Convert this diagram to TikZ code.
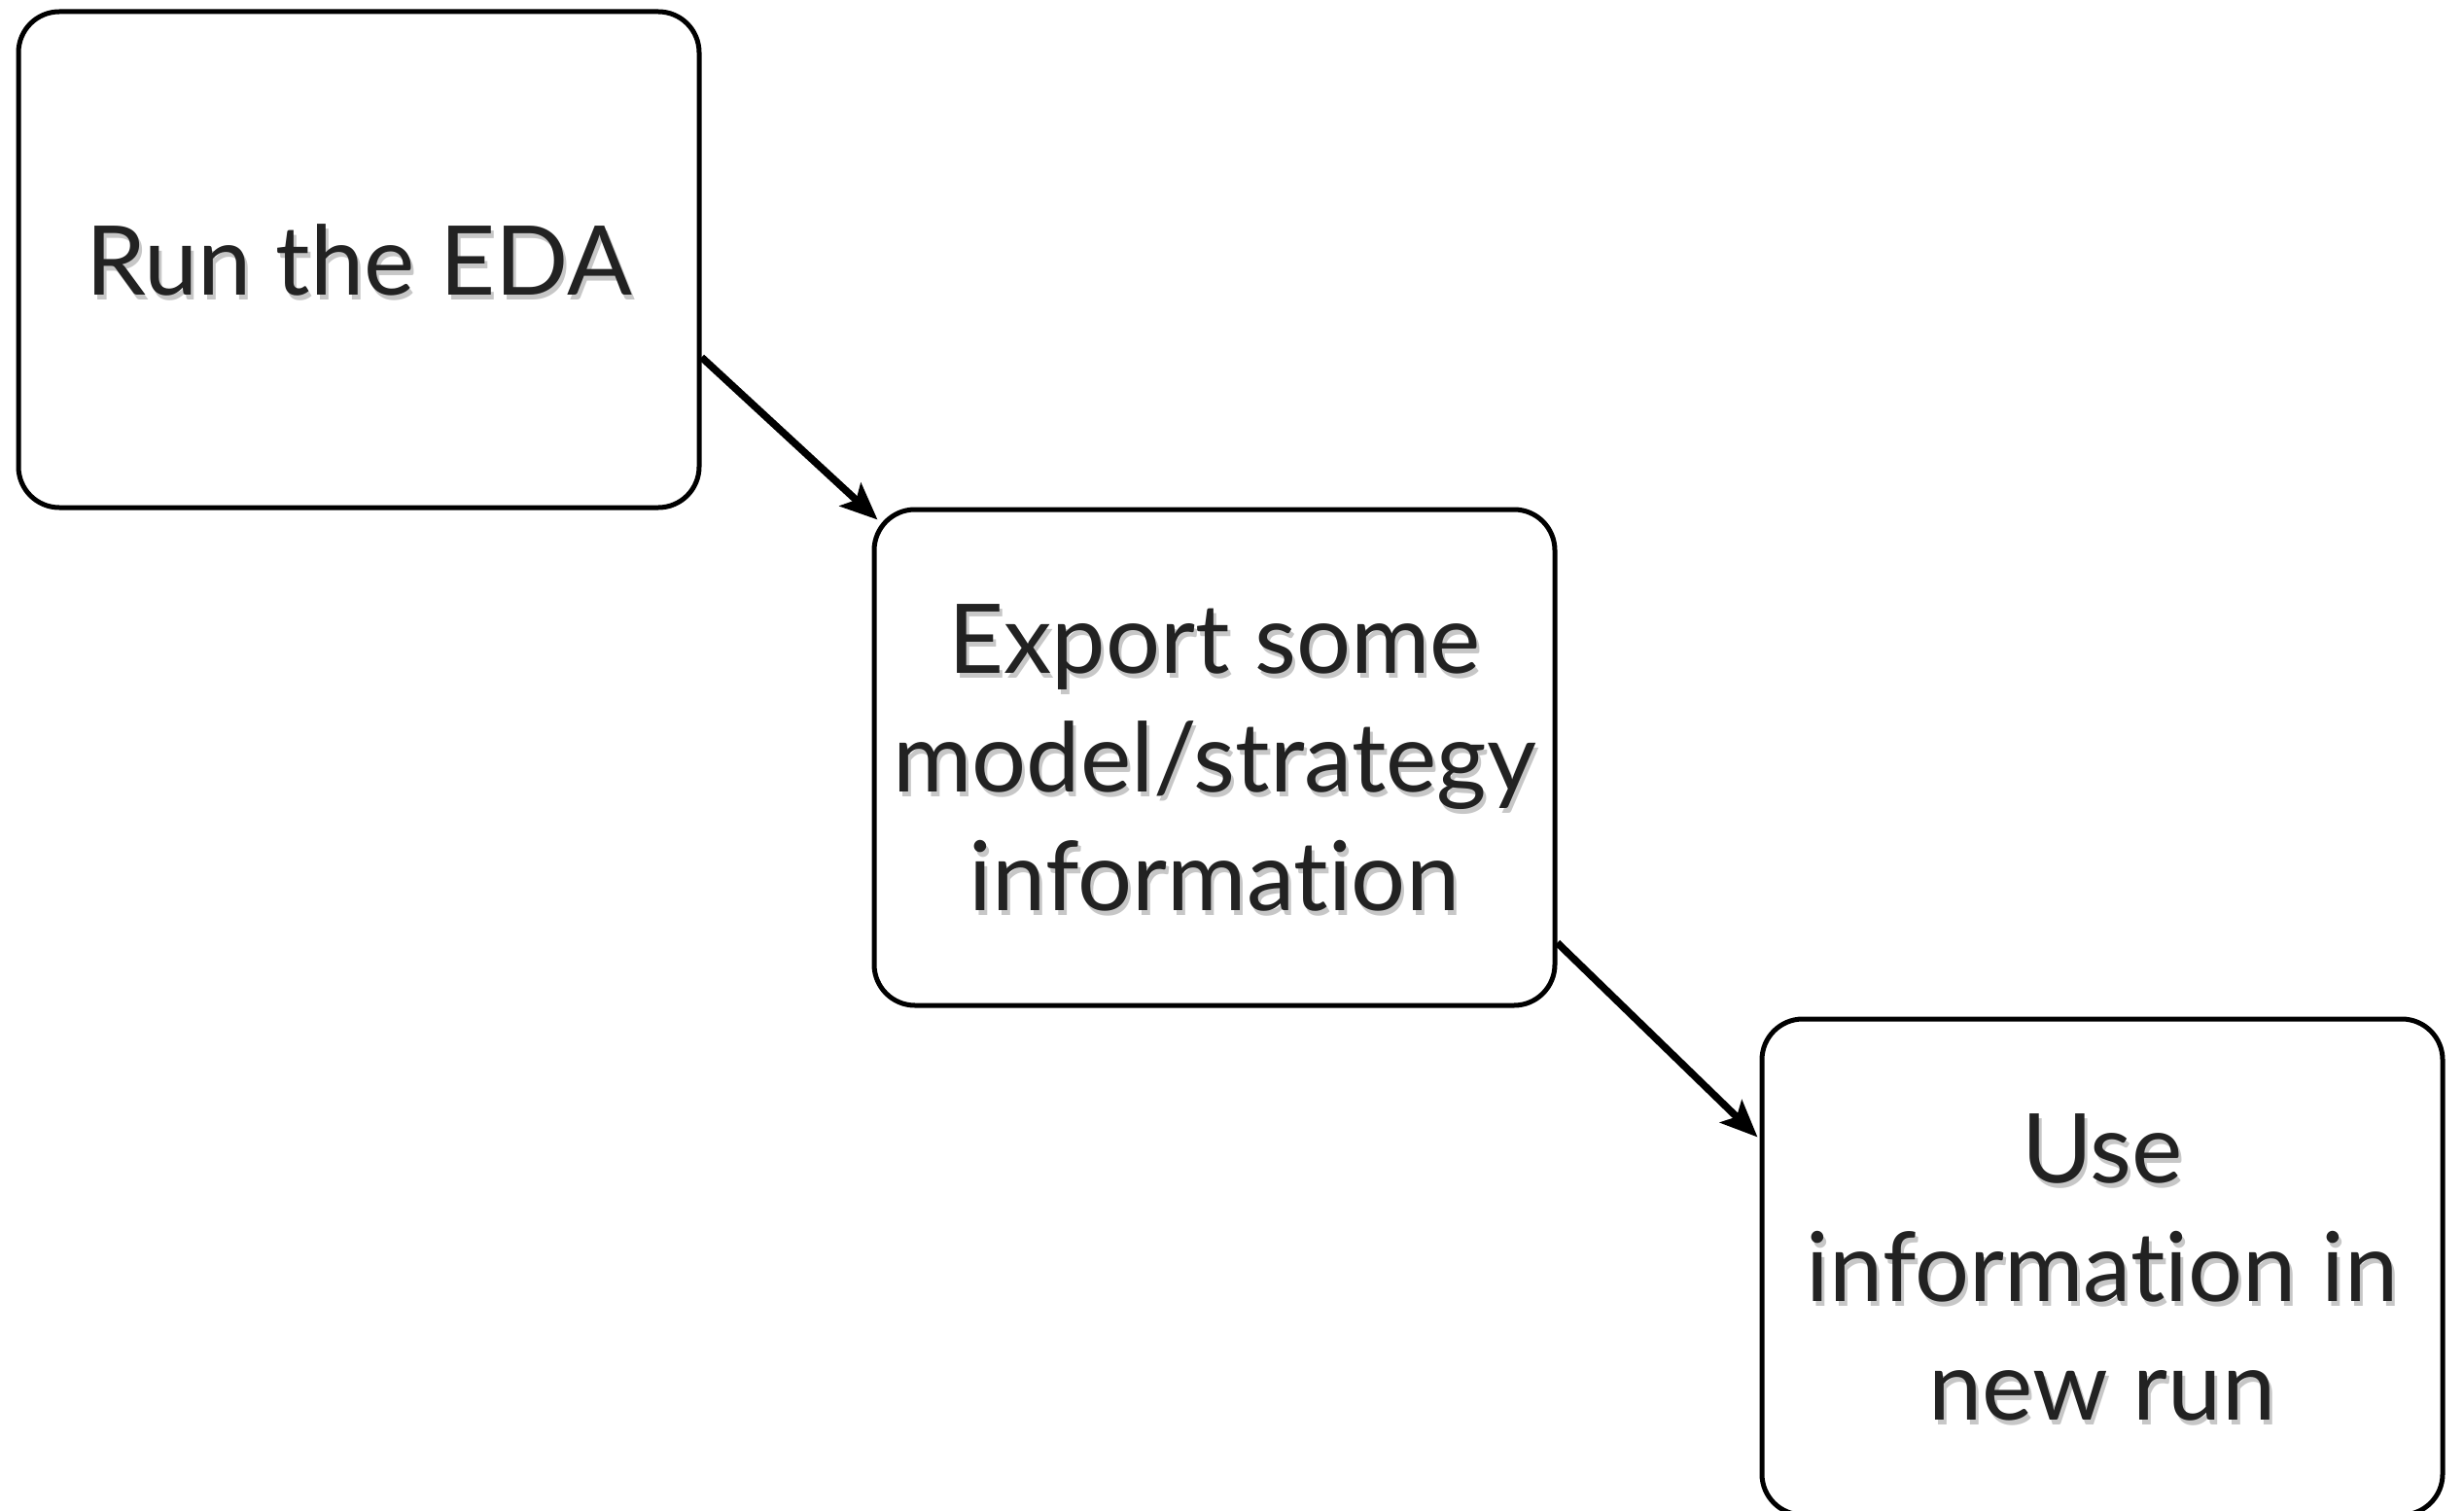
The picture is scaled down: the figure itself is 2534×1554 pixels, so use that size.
\documentclass[tikz,border=0pt]{standalone}
\usepackage{fontspec}
\setmainfont{Lato}[Ligatures=NoCommon]
\usetikzlibrary{arrows.meta,calc}
\definecolor{txt}{HTML}{222222}
\tikzset{
  stage/.style={draw=black, line width=5pt, rounded corners=42pt, minimum width=700pt, minimum height=510pt, align=center, text=txt, font=\fontsize{99}{122}\selectfont, inner sep=0pt},
  stageshadow/.style={minimum width=700pt, minimum height=510pt, align=center, text=black, text opacity=0.22, font=\fontsize{99}{122}\selectfont, inner sep=0pt},
  flow/.style={line width=7.5pt, -{Stealth[length=38pt,width=32pt,inset=8pt]}}
}
\begin{document}
\begin{tikzpicture}[x=1pt,y=-1pt]
\useasboundingbox (0,0) rectangle (2534,1554);
\node[stageshadow] (s1) at (372,272) {Run the EDA};
\node[stageshadow] (s2) at (1252,784) {Export some\\model/strategy\\information};
\node[stageshadow] (s3) at (2165,1308) {Use\\information in\\new run};
\node[stage] (b1) at (369,267) {Run the EDA};
\node[stage] (b2) at (1249,779) {Export some\\model/strategy\\information};
\node[stage] (b3) at (2162,1303) {Use\\information in\\new run};
\draw[flow] ($(b1.north east)!0.695!(b1.south east)$) -- ($(b2.north west)+(6,13)$);
\draw[flow] ($(b2.north east)!0.87!(b2.south east)$) -- ($(b3.north west)+(-2,124)$);
\end{tikzpicture}
\end{document}
